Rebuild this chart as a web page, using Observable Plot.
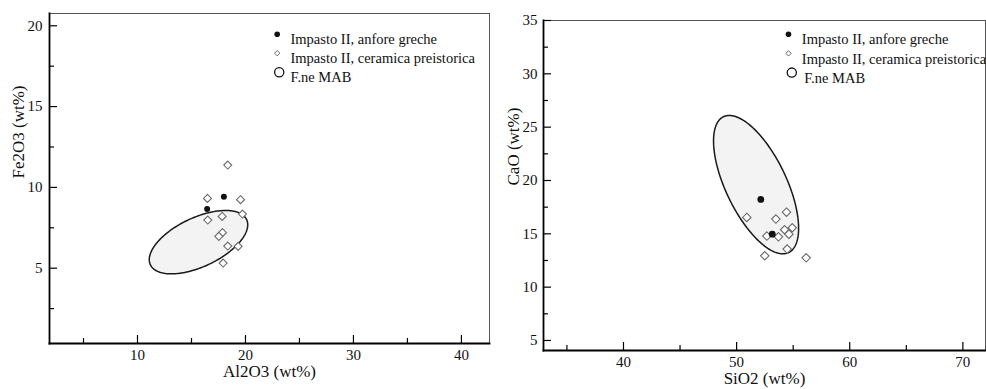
<!DOCTYPE html>
<html><head><meta charset="utf-8">
<script src="https://cdn.jsdelivr.net/npm/d3@7"></script>
<script src="https://cdn.jsdelivr.net/npm/@observablehq/plot@0.6"></script>
<style>
body{margin:0;background:#fff;width:986px;height:389px;overflow:hidden;position:relative;}
#left,#right{position:absolute;top:0}
#left{left:0}
#right{left:493px}
svg{overflow:visible}
svg, svg text{font-family:"Liberation Serif","Times New Roman",serif !important;}
</style></head><body><div id="left"></div><div id="right"></div>
<script>
const legendLabels = ["Impasto II, anfore greche", "Impasto II, ceramica preistorica", "F.ne MAB"];

// Left panel: Al2O3 vs Fe2O3
const anforeAl2O3 = [16.45, 18.0];
const anforeFe2O3 = [8.66, 9.42];
const preistAl2O3 = [18.36, 16.48, 19.54, 19.72, 16.51, 17.84, 17.87, 17.53, 18.36, 19.32, 17.93];
const preistFe2O3 = [11.38, 9.32, 9.24, 8.35, 7.98, 8.2, 7.2, 6.97, 6.37, 6.35, 5.32];
const mabLeft = {cx: 15.65, cy: 6.61, sx: 4.56, sy: 1.96, r: 0.55};
const leftXLabels = [10, 20, 30, 40];
const leftXMinor = [5, 15, 25, 35];
const leftYLabels = [5, 10, 15, 20];
const leftYMinor = [2.5, 7.5, 12.5, 17.5];

// Right panel: SiO2 vs CaO
const anforeSiO2 = [52.14, 53.15];
const anforeCaO = [18.22, 14.97];
const preistSiO2 = [50.9, 53.47, 54.41, 54.24, 54.92, 54.62, 52.67, 53.7, 54.47, 52.49, 56.15];
const preistCaO = [16.54, 16.38, 17.03, 15.38, 15.57, 14.97, 14.79, 14.72, 13.57, 12.94, 12.75];
const mabRight = {cx: 51.72, cy: 19.61, sx: 3.76, sy: 6.49, r: -0.63};
const rightXLabels = [40, 50, 60, 70];
const rightXMinor = [35, 45, 55, 65];
const rightYLabels = [5, 10, 15, 20, 25, 30, 35];
const rightYMinor = [7.5, 12.5, 17.5, 22.5, 27.5, 32.5];

const serif = "Liberation Serif";

function ellipse(e) {
  const pts = [];
  const k = Math.sqrt(1 - e.r * e.r);
  for (let i = 0; i <= 180; i++) {
    const t = 2 * Math.PI * i / 180;
    pts.push({x: e.cx + e.sx * Math.cos(t), y: e.cy + e.sy * (e.r * Math.cos(t) + k * Math.sin(t))});
  }
  return pts;
}

function panel(o) {
  const anfore = o.ax.map((x, i) => ({x, y: o.ay[i]}));
  const preist = o.px.map((x, i) => ({x, y: o.py[i]}));
  const L = o.legend;
  return Plot.plot({
    width: 493, height: 389,
    marginLeft: o.ml, marginRight: o.mr, marginTop: o.mt, marginBottom: o.mb,
    style: {fontFamily: serif, fontSize: "15px", background: "transparent", overflow: "visible"},
    x: {domain: o.xd},
    y: {domain: o.yd},
    marks: [
      Plot.line(ellipse(o.ell), {x: "x", y: "y", fill: "#f3f3f3", stroke: "#1a1a1a", strokeWidth: 1.5, curve: "linear-closed"}),
      Plot.dot(preist, {x: "x", y: "y", symbol: "diamond2", r: o.dr, stroke: "#6a6a6a", fill: "white", strokeWidth: 1.1}),
      Plot.dot(anfore, {x: "x", y: "y", r: o.fr, fill: "#111", stroke: "none"}),
      Plot.frame({stroke: "#555", strokeWidth: 1}),
      Plot.axisX(o.xm, {tickSize: -5, tickFormat: () => "", label: null, strokeWidth: 1.2}),
      Plot.axisY(o.ym, {tickSize: -5, tickFormat: () => "", label: null, strokeWidth: 1.2}),
      Plot.axisX(o.xl, {tickSize: -8, tickFormat: () => "", label: null, strokeWidth: 1.2}),
      Plot.axisY(o.yl, {tickSize: -8, tickFormat: () => "", label: null, strokeWidth: 1.2}),
      Plot.axisX(o.xl, {tickSize: 0, tickPadding: o.xpad, fontSize: 15, fontFamily: serif, label: null, fill: "#111"}),
      Plot.axisY(o.yl, {tickSize: 0, tickPadding: o.ypad, fontSize: 15, fontFamily: serif, label: null, fill: "#111"}),
      Plot.frame({anchor: "left", stroke: "#000", strokeWidth: 1.8}),
      Plot.frame({anchor: "bottom", stroke: "#000", strokeWidth: 1.8}),
      Plot.text([o.xlabel], {text: d => d, frameAnchor: "bottom", dy: o.xldy, fontSize: 17, fontFamily: serif, fill: "#111"}),
      Plot.text([o.ylabel], {text: d => d, frameAnchor: "left", dx: o.yldx, rotate: -90, fontSize: 17, fontFamily: serif, fill: "#111"}),
      // legend
      Plot.dot([0], {frameAnchor: "top-left", dx: L.mx, dy: L.y0, r: 2.8, fill: "#111"}),
      Plot.dot([0], {frameAnchor: "top-left", dx: L.mx, dy: L.y0 + L.step, r: 2.4, symbol: "diamond2", stroke: "#666", fill: "white", strokeWidth: 1}),
      Plot.dot([0], {frameAnchor: "top-left", dx: L.cx, dy: L.y0 + 2 * L.step, r: 4.6, stroke: "#111", fill: "none", strokeWidth: 1.3}),
      Plot.text([legendLabels[0]], {text: d => d, frameAnchor: "top-left", dx: L.tx, dy: L.y0, textAnchor: "start", fontSize: 14.5, fontFamily: serif, fill: "#111"}),
      Plot.text([legendLabels[1]], {text: d => d, frameAnchor: "top-left", dx: L.tx, dy: L.y0 + L.step, textAnchor: "start", fontSize: 14.5, fontFamily: serif, fill: "#111"}),
      Plot.text([legendLabels[2]], {text: d => d, frameAnchor: "top-left", dx: L.tx2, dy: L.y0 + 2 * L.step, textAnchor: "start", fontSize: 14.5, fontFamily: serif, fill: "#111"})
    ]
  });
}

document.getElementById("left").append(panel({
  ax: anforeAl2O3, ay: anforeFe2O3, px: preistAl2O3, py: preistFe2O3, ell: mabLeft,
  ml: 49, mr: 4, mt: 13, mb: 46, dr: 3.6, fr: 3,
  xd: [1.85, 42.6], yd: [0.34, 20.76],
  xm: leftXMinor, ym: leftYMinor, xl: leftXLabels, yl: leftYLabels,
  xpad: 6, ypad: 7,
  xlabel: "Al2O3 (wt%)", ylabel: "Fe2O3 (wt%)", xldy: 33, yldx: -31,
  legend: {mx: 227.7, cx: 229.7, tx: 241, tx2: 241, y0: 20.7, step: 19}
}));

document.getElementById("right").append(panel({
  ax: anforeSiO2, ay: anforeCaO, px: preistSiO2, py: preistCaO, ell: mabRight,
  ml: 50, mr: 1, mt: 20, mb: 39, dr: 3.8, fr: 3.4,
  xd: [32.93, 72.0], yd: [4.06, 35],
  xm: rightXMinor, ym: rightYMinor, xl: rightXLabels, yl: rightYLabels,
  xpad: 6, ypad: 6,
  xlabel: "SiO2 (wt%)", ylabel: "CaO (wt%)", xldy: 33, yldx: -30,
  legend: {mx: 245, cx: 248.3, tx: 258.3, tx2: 260.7, y0: 13.7, step: 19.2}
}));
</script>
</body></html>
